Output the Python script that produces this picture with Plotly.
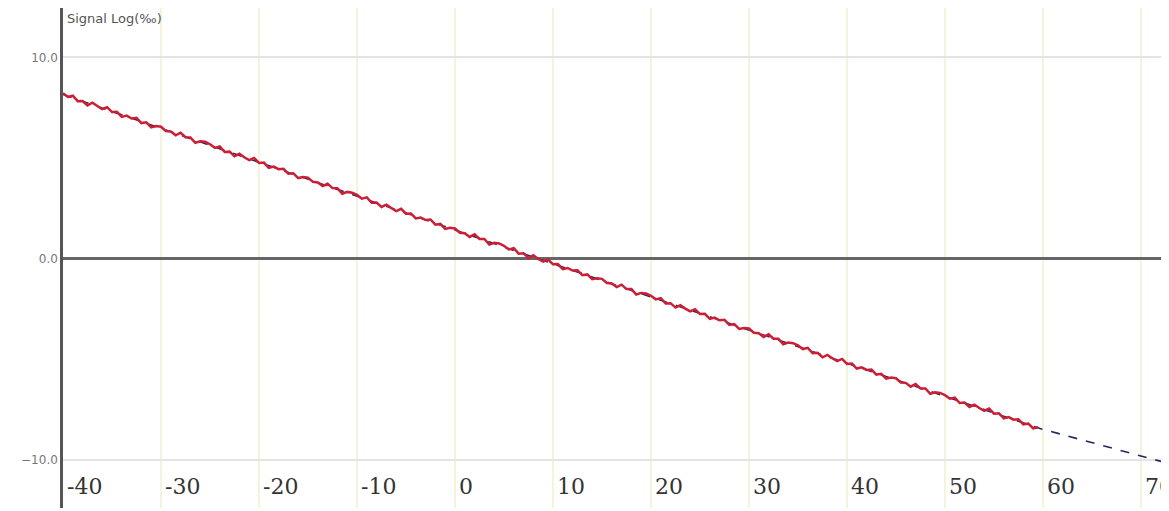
import plotly.graph_objects as go

sig_x_start = -40.0
sig_x_step = 0.5
sig_y = [
    8.21, 8.03, 8.09, 7.82, 7.83, 7.61, 7.74, 7.56, 7.42, 7.52,
    7.28, 7.29, 7.04, 7.10, 6.96, 6.99, 6.73, 6.77, 6.52, 6.58,
    6.55, 6.33, 6.31, 6.12, 6.25, 6.03, 6.02, 5.75, 5.83, 5.80,
    5.68, 5.50, 5.57, 5.29, 5.31, 5.08, 5.21, 5.03, 4.89, 5.00,
    4.75, 4.77, 4.51, 4.57, 4.44, 4.46, 4.21, 4.24, 4.00, 4.05,
    4.02, 3.81, 3.78, 3.60, 3.72, 3.50, 3.49, 3.22, 3.31, 3.27,
    3.16, 2.97, 3.04, 2.77, 2.78, 2.56, 2.68, 2.51, 2.36, 2.47,
    2.23, 2.24, 1.99, 2.04, 1.91, 1.94, 1.68, 1.72, 1.47, 1.53,
    1.49, 1.28, 1.26, 1.07, 1.20, 0.97, 0.97, 0.69, 0.78, 0.75,
    0.63, 0.45, 0.51, 0.24, 0.26, 0.03, 0.16, -0.02, -0.16, -0.05,
    -0.29, -0.28, -0.53, -0.47, -0.60, -0.58, -0.83, -0.79, -1.03, -0.98,
    -1.01, -1.22, -1.24, -1.42, -1.30, -1.52, -1.52, -1.79, -1.71, -1.74,
    -1.85, -2.03, -1.97, -2.24, -2.22, -2.44, -2.32, -2.49, -2.63, -2.52,
    -2.76, -2.75, -3.00, -2.94, -3.07, -3.05, -3.30, -3.26, -3.50, -3.45,
    -3.48, -3.69, -3.71, -3.90, -3.77, -3.99, -3.99, -4.26, -4.18, -4.21,
    -4.32, -4.50, -4.44, -4.71, -4.69, -4.91, -4.79, -4.96, -5.10, -4.99,
    -5.24, -5.22, -5.47, -5.41, -5.54, -5.52, -5.77, -5.73, -5.97, -5.92,
    -5.95, -6.16, -6.18, -6.37, -6.24, -6.46, -6.46, -6.73, -6.65, -6.68,
    -6.79, -6.97, -6.91, -7.18, -7.16, -7.38, -7.26, -7.43, -7.57, -7.46,
    -7.71, -7.69, -7.94, -7.88, -8.01, -7.99, -8.24, -8.20, -8.44, -8.39,
]
sig_x = [sig_x_start + sig_x_step * i for i in range(len(sig_y))]

# Trend line (dashed navy), visible past the end of the signal
fit_x = [-40, 8.4, 59.7, 72.9]
fit_y = [8.15, 0.0, -8.45, -10.2]

x_ticks = [-40, -30, -20, -10, 0, 10, 20, 30, 40, 50, 60, 70]
x_label_level = -11.35  # x tick labels sit inside the plot, below the -10 grid line
y_ticks = [-10, 0, 10]
y_title = "Signal Log(‰)"

fig = go.Figure()
fig.add_trace(go.Scatter(x=fit_x, y=fit_y, mode="lines",
                         line=dict(color="#1f2a5c", width=1.6, dash="dash"), showlegend=False))
fig.add_trace(go.Scatter(x=sig_x, y=sig_y, mode="lines",
                         line=dict(color="#cc1f36", width=2.5), showlegend=False))

annotations = [dict(text=y_title, xref="paper", yref="paper", x=0.002, y=1.0,
                    xanchor="left", yanchor="top", showarrow=False, yshift=-1,
                    font=dict(family="DejaVu Sans", size=13, color="#555555"))]
for t in x_ticks:
    annotations.append(dict(text=str(t), xref="x", yref="y", x=t, y=x_label_level,
                            xanchor="left", yanchor="middle", showarrow=False, xshift=2,
                            font=dict(family="DejaVu Serif", size=22, color="#333333")))

# The page body has an 8px margin; the figure is sized so the plot lands where the reference has it.
fig.update_layout(
    width=1161, height=503,
    margin=dict(l=55, r=0, t=0, b=3, autoexpand=False),
    paper_bgcolor="white", plot_bgcolor="white",
    showlegend=False,
    xaxis=dict(range=[-40, 72.86], tickvals=x_ticks, showticklabels=False,
               ticks="", showline=False, zeroline=False, automargin=False,
               showgrid=True, gridcolor="#f4f4dc", gridwidth=2),
    yaxis=dict(range=[-12.4, 12.45], tickvals=y_ticks, tickformat=".1f", automargin=False,
               showline=True, linecolor="#555555", linewidth=2.5,
               zeroline=True, zerolinecolor="#666666", zerolinewidth=3,
               showgrid=True, gridcolor="#e4e4e4", gridwidth=1.5, ticks="",
               tickfont=dict(family="DejaVu Sans", size=12, color="#777777")),
    annotations=annotations,
)

fig.write_html("out.html")
